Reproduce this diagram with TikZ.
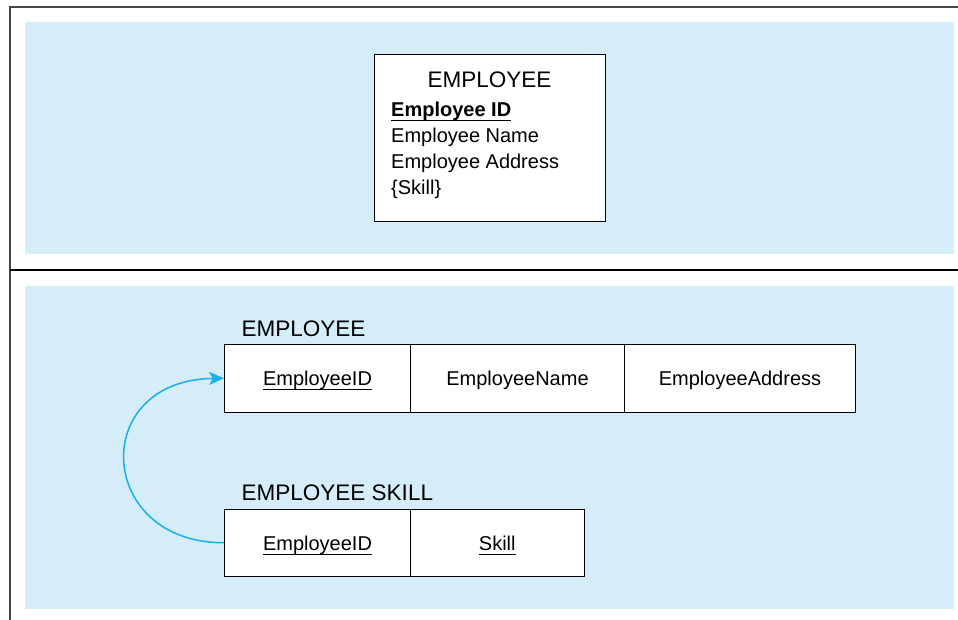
\documentclass[tikz,border=0pt]{standalone}
\usepackage{fontspec}
\setmainfont{Liberation Sans}
\usetikzlibrary{arrows.meta}
\definecolor{panel}{RGB}{213,236,249}
\definecolor{linkc}{RGB}{26,174,236}
\definecolor{framec}{RGB}{70,70,70}
\newsavebox\ulbox
\newcommand\myul[1]{\sbox\ulbox{#1}\rlap{\usebox\ulbox}\rule[-4.5pt]{\wd\ulbox}{1.2pt}}
\tikzset{
 panelbox/.style={fill=panel, draw=none},
 entitybox/.style={draw=black, line width=1pt, fill=white, anchor=north west, inner sep=0pt},
 cell/.style={draw=black, line width=1pt, fill=white, anchor=north west, inner sep=0pt,
   minimum height=67.5pt, text height=15pt, text depth=0pt, font=\fontsize{20}{24}\selectfont},
 titletext/.style={font=\fontsize{22.5}{27}\selectfont, inner sep=0pt},
 attr/.style={font=\fontsize{20}{24}\selectfont, inner sep=0pt, anchor=base west},
 link/.style={draw=linkc, line width=1.5pt, -{Stealth[length=15pt,width=13pt,inset=4pt]}},
}
\begin{document}
\begin{tikzpicture}[x=1pt,y=-1pt]
\useasboundingbox (0,0) rectangle (958,620);
\fill[white] (0,0) rectangle (958,620);
% panels
\fill[panelbox] (25,22) rectangle (954,254);
\fill[panelbox] (25,286) rectangle (954,609);
% frame
\draw[framec, line width=2pt] (10,620) -- (10,6.7) -- (958,6.7);
\draw[black, line width=1.5pt] (10,270) -- (958,270);
% top entity
\node[entitybox, minimum width=231pt, minimum height=167pt] (ent) at (374,54) {};
\node[titletext, anchor=base] (enttitle) at (489.5,87.3) {EMPLOYEE};
\node[attr] (a1) at (391,116.7) {\myul{\textbf{Employee ID}}};
\node[attr] (a2) at (391,142.7) {Employee Name};
\node[attr] (a3) at (391,169) {Employee Address};
\node[attr] (a4) at (391,194.5) {\{Skill\}};
% relations
\node[titletext, anchor=base west] (rel1) at (241.5,336.7) {EMPLOYEE};
\node[cell, minimum width=186pt] (e1) at (224,344) {\myul{EmployeeID}};
\node[cell, minimum width=214pt] (e2) at (410,344) {EmployeeName};
\node[cell, minimum width=231pt] (e3) at (624,344) {EmployeeAddress};
\node[titletext, anchor=base west] (rel2) at (241.5,500) {EMPLOYEE SKILL};
\node[cell, minimum width=186pt] (s1) at (224,508.5) {\myul{EmployeeID}};
\node[cell, minimum width=173.5pt] (s2) at (410,508.5) {\myul{Skill}};
% foreign key link
\draw[link] (s1.west) .. controls (96,543) and (88,380) .. (e1.west);
\end{tikzpicture}
\end{document}
